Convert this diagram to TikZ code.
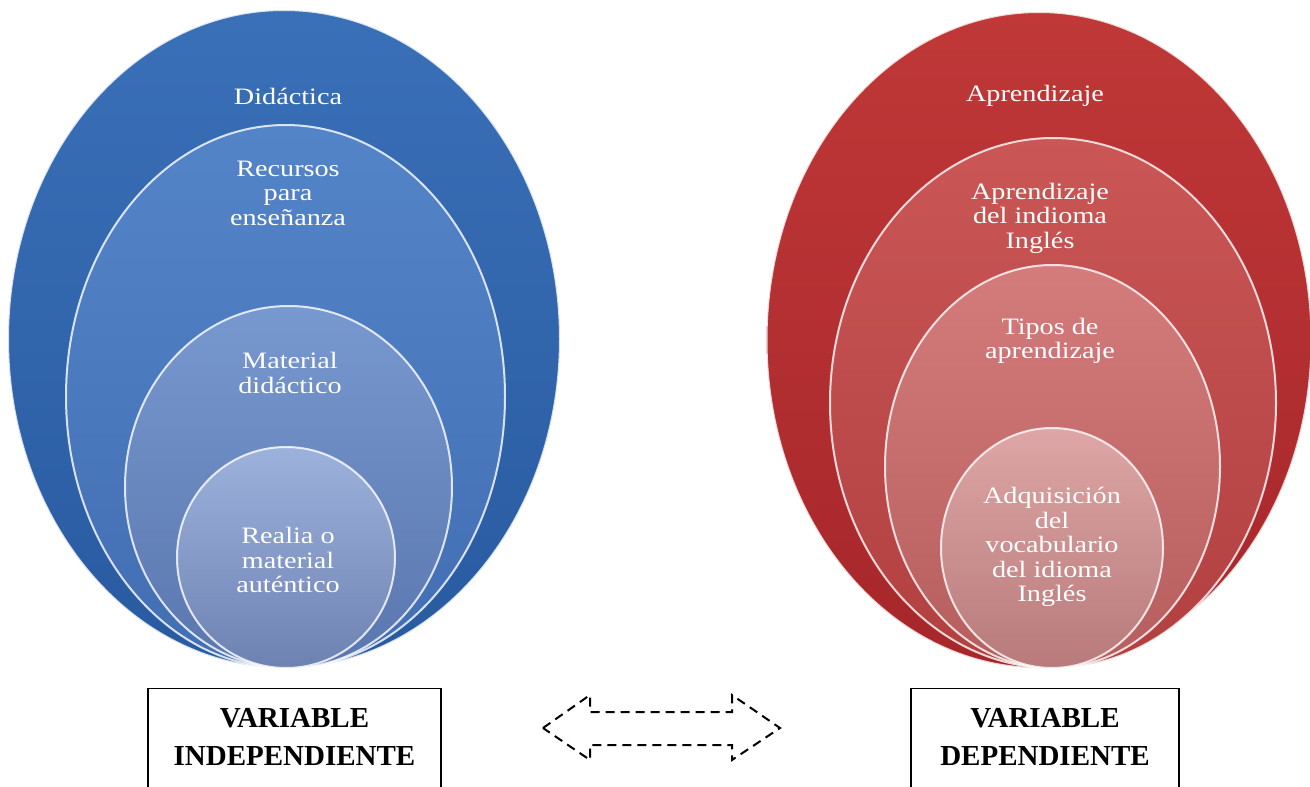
\documentclass[tikz,border=0pt]{standalone}
\usepackage{fontspec}
\setmainfont{Liberation Serif}
\newfontfamily\widefont[FakeStretch=1.2]{Liberation Serif}
\usetikzlibrary{shapes.geometric}
\definecolor{bAt}{RGB}{58,112,184}\definecolor{bAb}{RGB}{40,90,160}
\definecolor{bBt}{RGB}{84,132,200}\definecolor{bBb}{RGB}{66,110,178}
\definecolor{bCt}{RGB}{120,152,208}\definecolor{bCb}{RGB}{90,118,174}
\definecolor{bDt}{RGB}{156,178,220}\definecolor{bDb}{RGB}{110,130,178}
\definecolor{rAt}{RGB}{192,56,56}\definecolor{rAb}{RGB}{166,38,42}
\definecolor{rBt}{RGB}{202,86,86}\definecolor{rBb}{RGB}{178,64,64}
\definecolor{rCt}{RGB}{212,124,124}\definecolor{rCb}{RGB}{182,94,94}
\definecolor{rDt}{RGB}{222,166,166}\definecolor{rDb}{RGB}{184,122,122}
\tikzset{
  oval/.style n args={4}{ellipse, inner sep=0pt, minimum width=#1, minimum height=#2,
     top color=#3, bottom color=#4, draw=white, draw opacity=0.8, line width=2pt},
  ovaltext/.style={text=white, align=center, inner sep=0pt,
     font=\widefont\fontsize{23.5}{24.5}\selectfont},
  varbox/.style={draw=black, line width=1.3pt, fill=white, inner sep=0pt},
  vartext/.style={align=center, inner sep=0pt, font=\bfseries\fontsize{29}{38}\selectfont},
  dasharrow/.style={draw=black, line width=2pt, dash pattern=on 9pt off 6pt, line join=miter}
}
\begin{document}
\begin{tikzpicture}[x=1pt,y=-1pt]
\clip (0,0) rectangle (1310,787);
\fill[white] (0,0) rectangle (1310,787);
% blue
\node[oval={552pt}{658pt}{bAt}{bAb}] (b1) at (284,339) {};
\node[oval={439pt}{543pt}{bBt}{bBb}] (b2) at (285.5,396.5) {};
\node[oval={327pt}{362pt}{bCt}{bCb}] (b3) at (288.5,487) {};
\node[oval={218pt}{221pt}{bDt}{bDb}] (b4) at (286,557.5) {};
\node[ovaltext] (tb1) at (288,96) {Didáctica};
\node[ovaltext] (tb2) at (288,193) {Recursos\\para\\enseñanza};
\node[ovaltext] (tb3) at (290,373) {Material\\didáctico};
\node[ovaltext] (tb4) at (288,560) {Realia o\\material\\auténtico};
% red
\node[oval={545pt}{656pt}{rAt}{rAb}] (r1) at (1039,340) {};
\node[oval={446pt}{530pt}{rBt}{rBb}] (r2) at (1053,403) {};
\node[oval={335pt}{403pt}{rCt}{rCb}] (r3) at (1052.5,466.5) {};
\node[oval={222pt}{240pt}{rDt}{rDb}] (r4) at (1052,548) {};
\node[ovaltext] (tr1) at (1035,96) {Aprendizaje};
\node[ovaltext] (tr2) at (1040,218) {Aprendizaje\\del indioma\\Inglés};
\node[ovaltext] (tr3) at (1050,341) {Tipos de\\aprendizaje};
\node[ovaltext] (tr4) at (1052,547) {Adquisición\\del\\vocabulario\\del idioma\\Inglés};
% boxes
\node[varbox, minimum width=293pt, minimum height=130pt, anchor=north] (lbox) at (294.5,688) {};
\node[vartext] (ltxt) at (294.5,737) {VARIABLE\\INDEPENDIENTE};
\node[varbox, minimum width=268pt, minimum height=130pt, anchor=north] (rbox) at (1045,688) {};
\node[vartext] (rtxt) at (1045,737) {VARIABLE\\DEPENDIENTE};
% dashed double arrow
\coordinate (a1) at (543,728);
\coordinate (a2) at (590,695);
\coordinate (a3) at (590,712);
\coordinate (a4) at (732,712);
\coordinate (a5) at (732,695);
\coordinate (a6) at (780,728);
\coordinate (a7) at (732,760);
\coordinate (a8) at (732,745);
\coordinate (a9) at (590,745);
\coordinate (a10) at (590,760);
\draw[dasharrow] (a1) -- (a2) -- (a3) -- (a4) -- (a5) -- (a6) -- (a7) -- (a8) -- (a9) -- (a10) -- cycle;
\end{tikzpicture}
\end{document}
